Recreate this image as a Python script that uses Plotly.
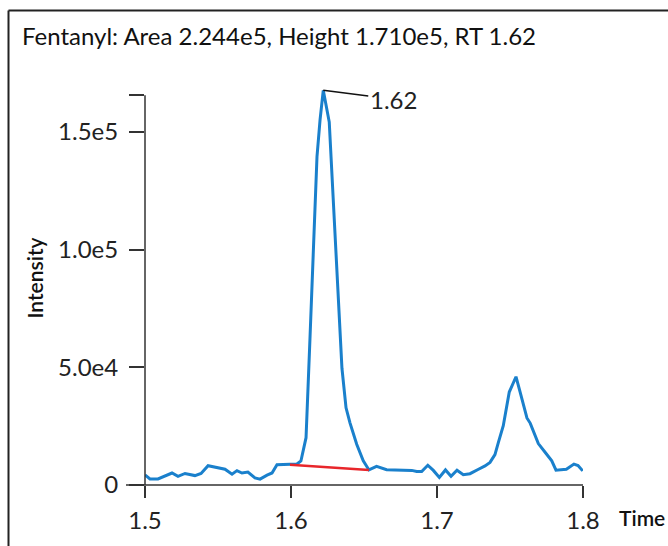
import plotly.graph_objects as go

# ---- data ----
time = [1.5000, 1.5034, 1.5089, 1.5137, 1.5185, 1.5226, 1.5274, 1.5342, 1.5384, 1.5432,
        1.5479, 1.5548, 1.5596, 1.5630, 1.5664, 1.5705, 1.5753, 1.5788, 1.5836, 1.5870,
        1.5904, 1.5979, 1.6041, 1.6068, 1.6103, 1.6130, 1.6154, 1.6178, 1.6199, 1.6221,
        1.6262, 1.6295, 1.6322, 1.6349, 1.6377, 1.6404, 1.6450, 1.6495, 1.6534, 1.6586,
        1.6655, 1.6747, 1.6827, 1.6861, 1.6895, 1.6937, 1.6975, 1.7016, 1.7058, 1.7096,
        1.7137, 1.7180, 1.7226, 1.7281, 1.7329, 1.7363, 1.7397, 1.7420, 1.7454, 1.7495,
        1.7541, 1.7568, 1.7616, 1.7639, 1.7694, 1.7747, 1.7786, 1.7815, 1.7886, 1.7938,
        1.7966, 1.7998]
intensity = [4300, 2600, 2600, 3700, 5100, 3700, 4900, 4000, 4900, 8200,
             7500, 6700, 4600, 6100, 5100, 5500, 3000, 2500, 4200, 5100,
             8600, 8600, 8900, 10200, 20100, 62300, 100200, 139500, 155100, 167700,
             154200, 112900, 79200, 49600, 32800, 26400, 17300, 10300, 6400, 7900,
             6500, 6300, 6200, 5700, 5700, 8400, 6200, 3200, 6400, 3700,
             6300, 4400, 4800, 6600, 8100, 9600, 12900, 18000, 25200, 39500,
             46000, 39800, 28500, 26200, 17600, 13400, 10300, 6300, 6700, 8900,
             8300, 6000]
baseline_time = [1.5993, 1.6534]
baseline_intensity = [8600, 6400]
x_ticks = [1.5, 1.6, 1.7, 1.8]
x_tick_labels = ["1.5", "1.6", "1.7", "1.8"]
y_ticks = [0, 50000, 100000, 150000, 165600]
y_tick_labels = ["0", "5.0e4", "1.0e5", "1.5e5", ""]
peak_label = "1.62"
title_text = "Fentanyl: Area 2.244e5, Height 1.710e5, RT 1.62"

FONT = "Lato"
AX = "#333333"

fig = go.Figure()
fig.add_trace(go.Scatter(x=time, y=intensity, mode="lines",
                         line=dict(color="#1a80cc", width=3), hoverinfo="skip"))
fig.add_trace(go.Scatter(x=baseline_time, y=baseline_intensity, mode="lines",
                         line=dict(color="#e8262b", width=2.5), hoverinfo="skip"))

i_max = max(range(len(intensity)), key=lambda i: intensity[i])

W, H = 668, 546
L, R, T, B = 145, 85, 85, 58
pw, ph = W - L - R, H - T - B
YMAX = 169950


def px_x(X):  # window pixel -> paper x
    return (X - L) / pw


def px_y(Y):  # window pixel -> paper y
    return (H - B - Y) / ph


fig.update_layout(
    width=W, height=H,
    margin=dict(l=L, r=R, t=T, b=B),
    paper_bgcolor="white", plot_bgcolor="white",
    showlegend=False,
    font=dict(family=FONT, color="#111111"),
    title=dict(text=title_text, x=22 / W, xanchor="left",
               y=1 - 37 / H, yanchor="middle",
               font=dict(family=FONT, size=24, color="#111111")),
    xaxis=dict(range=[1.5, 1.8], tickvals=x_ticks, ticktext=x_tick_labels,
               showgrid=False, zeroline=False, showline=False,
               ticks="outside", ticklen=12, tickwidth=1.5, tickcolor=AX,
               ticklabelstandoff=2,
               tickfont=dict(family=FONT, size=24, color="#222222")),
    yaxis=dict(range=[0, YMAX], tickvals=y_ticks, ticktext=y_tick_labels,
               showgrid=False, zeroline=False, showline=False,
               ticks="outside", ticklen=15, tickwidth=1.5, tickcolor=AX,
               ticklabelstandoff=6,
               tickfont=dict(family=FONT, size=24, color="#222222")),
    shapes=[
        # x axis line (extends left of y axis)
        dict(type="line", xref="paper", yref="paper", x0=-19 / pw, x1=1, y0=0, y1=0,
             line=dict(color=AX, width=1.5)),
        # y axis line (extends below x axis)
        dict(type="line", xref="paper", yref="y", x0=0, x1=0, y0=-11 * YMAX / ph, y1=y_ticks[-1],
             line=dict(color=AX, width=1.5)),
        # frame border (left and top)
        dict(type="line", xref="paper", yref="paper", x0=px_x(8.5), x1=px_x(8.5),
             y0=px_y(560), y1=px_y(10), line=dict(color="#222222", width=2)),
        dict(type="line", xref="paper", yref="paper", x0=px_x(8.5), x1=px_x(680),
             y0=px_y(10), y1=px_y(10), line=dict(color="#222222", width=2)),
    ],
    annotations=[
        dict(x=time[i_max], y=intensity[i_max], xref="x", yref="y", text=peak_label,
             showarrow=True, arrowhead=0, arrowwidth=1.5, arrowcolor="#111111",
             ax=70, ay=9, font=dict(family=FONT, size=24, color="#222222")),
        dict(x=px_x(617), y=px_y(521), xref="paper", yref="paper",
             text="Time", showarrow=False, xanchor="left", yanchor="middle",
             font=dict(family=FONT, size=21, color="#111111", weight=600)),
        dict(x=px_x(35), y=px_y(280), xref="paper", yref="paper",
             text="Intensity", showarrow=False, textangle=-90, xanchor="center", yanchor="middle",
             font=dict(family=FONT, size=21, color="#111111", weight=600)),
    ],
)

fig.write_html("out.html", config={"displayModeBar": False},
               post_script="document.body.style.margin='0';document.body.style.overflow='hidden';")
